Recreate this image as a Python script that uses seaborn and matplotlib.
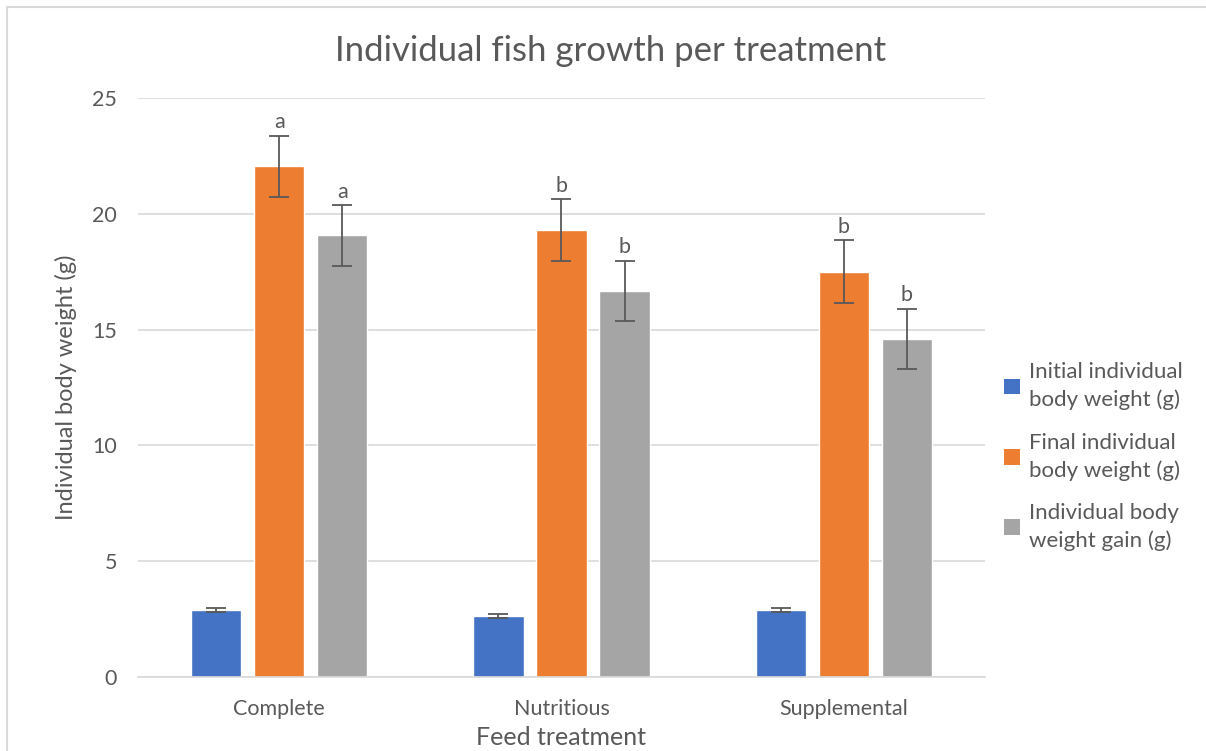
import matplotlib
matplotlib.use("Agg")
import matplotlib.pyplot as plt
from matplotlib.lines import Line2D
from matplotlib.patches import Patch
import seaborn as sns
import pandas as pd

# Chart data
treatments = ["Complete", "Nutritious", "Supplemental"]
series = ["Initial individual\nbody weight (g)",
          "Final individual\nbody weight (g)",
          "Individual body\nweight gain (g)"]
initial_weight = [2.9, 2.63, 2.9]
final_weight = [22.05, 19.3, 17.5]
weight_gain = [19.07, 16.68, 14.6]
initial_err = [0.1, 0.1, 0.1]
final_err = [1.33, 1.33, 1.35]
gain_err = [1.31, 1.3, 1.3]
letters_final = ["a", "b", "b"]
letters_gain = ["a", "b", "b"]
yticks = [0, 5, 10, 15, 20, 25]

colors = ["#4472C4", "#ED7D31", "#A5A5A5"]
text_col = "#595959"

sns.set_theme(style="white")
plt.rcParams["font.family"] = ["Lato", "DejaVu Sans"]

rows = []
for name, vals, errs in zip(series,
                            [initial_weight, final_weight, weight_gain],
                            [initial_err, final_err, gain_err]):
    for t, v, e in zip(treatments, vals, errs):
        rows.append({"treatment": t, "series": name, "value": v, "err": e})
df = pd.DataFrame(rows)

fig = plt.figure(figsize=(12.06, 7.51), dpi=100)
ax = fig.add_axes([0.1144, 0.0985, 0.7023, 0.771])

sns.barplot(data=df, x="treatment", y="value", hue="series",
            palette=colors, width=0.67, gap=0.2, errorbar=None,
            saturation=1, legend=False, ax=ax)

# Error bars and significance letters, placed on the bars seaborn drew
letters = {series[1]: letters_final, series[2]: letters_gain}
for i, name in enumerate(series):
    sub = df[df["series"] == name]
    bars = ax.patches[i * 3:(i + 1) * 3]
    for bar, (_, r), j in zip(bars, sub.iterrows(), range(3)):
        xc = bar.get_x() + bar.get_width() / 2
        ax.errorbar(xc, r["value"], yerr=r["err"], fmt="none",
                    ecolor=text_col, elinewidth=1.3, capsize=7,
                    capthick=1.3, zorder=3)
        if name in letters:
            ax.text(xc, r["value"] + r["err"] + 0.15, letters[name][j],
                    ha="center", va="bottom", fontsize=15.5, color=text_col)

ax.set_ylim(0, 25)
ax.set_yticks(yticks)
ax.set_xlim(-0.5, 2.5)
ax.yaxis.grid(True, color="#D9D9D9", linewidth=1.2)
ax.set_axisbelow(True)
for s in ["top", "right", "left"]:
    ax.spines[s].set_visible(False)
ax.spines["bottom"].set_color("#D9D9D9")
ax.spines["bottom"].set_linewidth(1.2)
ax.tick_params(axis="both", length=0, labelsize=15.5, colors=text_col)
ax.tick_params(axis="y", pad=15)
ax.tick_params(axis="x", pad=16)

ax.set_xlabel("Feed treatment", fontsize=18, color=text_col, labelpad=5)
ax.set_ylabel("Individual body weight (g)", fontsize=17, color=text_col,
              labelpad=11)
fig.text(0.506, 0.932, "Individual fish growth per treatment",
         ha="center", va="center", fontsize=25, color=text_col)

handles = [Patch(facecolor=c, edgecolor="none") for c in colors]
leg = fig.legend(handles, series, loc="center left",
                 bbox_to_anchor=(0.816, 0.392), frameon=False, fontsize=16,
                 labelcolor=text_col, handlelength=0.7, handleheight=0.7,
                 handletextpad=0.4, labelspacing=1.0)
for t in leg.get_texts():
    t.set_linespacing(1.45)

# Light chart-area border (top and left edges visible in the crop)
fig.add_artist(Line2D([0.006, 1.0], [0.9907, 0.9907], color="#D9D9D9",
                      linewidth=1.5, transform=fig.transFigure))
fig.add_artist(Line2D([0.006, 0.006], [0.0, 0.9907], color="#D9D9D9",
                      linewidth=1.5, transform=fig.transFigure))

fig.savefig("out.png", dpi=100)
